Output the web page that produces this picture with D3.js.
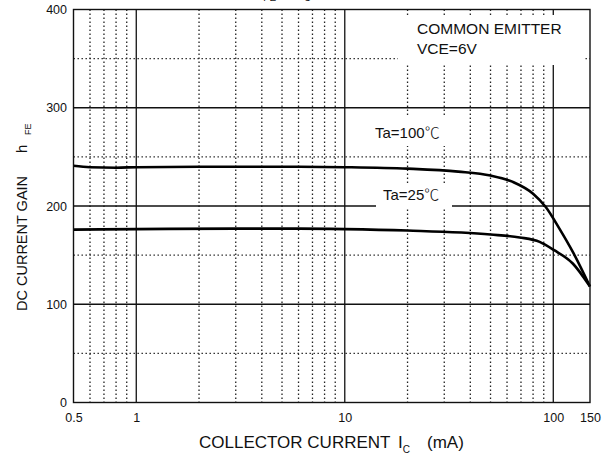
<!DOCTYPE html>
<html>
<head>
<meta charset="utf-8">
<script src="https://cdn.jsdelivr.net/npm/d3@7"></script>
<style>
  html, body { margin: 0; padding: 0; background: #fff; }
  svg { display: block; font-family: "Liberation Sans", Arial, sans-serif; }
  .deg { font-family: "Noto Sans CJK SC", "DejaVu Sans", sans-serif; font-weight: 300; }
</style>
</head>
<body>
<svg width="612" height="459"></svg>
<script>
// values
var ic100 = [0.5, 0.6, 0.8, 1, 2, 5, 10, 20, 35, 50, 64, 80, 92, 107, 125, 150];
var hfe100 = [241, 239.5, 239, 239.5, 240, 240, 239.5, 238, 235, 231, 224.5, 212.5, 199, 177, 152, 118];
var ic25 = [0.5, 1, 3, 6, 10, 20, 50, 69, 86, 101, 124, 150];
var hfe25 = [176, 176.5, 177, 177, 176.5, 175, 171, 168, 163.5, 155, 141.5, 118];
var xTicks = [0.5, 1, 10, 100, 150];
var xMajor = [1, 10, 100];
var xMinor = [0.6, 0.7, 0.8, 0.9, 2, 3, 4, 5, 6, 7, 8, 9, 20, 30, 40, 50, 60, 70, 80, 90];
var yTicks = [0, 100, 200, 300, 400];
var yMajor = [100, 200, 300];
var yMinor = [50, 150, 250, 350];

var svg = d3.select("svg");
var x = d3.scaleLog().domain([0.5, 150]).range([73.5, 590]);
var y = d3.scaleLinear().domain([0, 400]).range([402.5, 9.5]);

var grid = svg.append("g");
grid.selectAll(".vmin").data(xMinor).join("line")
    .attr("x1", function (d) { return x(d); }).attr("x2", function (d) { return x(d); })
    .attr("y1", y(400)).attr("y2", y(0))
    .attr("stroke", "#222").attr("stroke-width", 1.3).attr("stroke-dasharray", "1.4,2.6");
grid.selectAll(".hmin").data(yMinor).join("line")
    .attr("x1", x(0.5)).attr("x2", x(150))
    .attr("y1", function (d) { return y(d); }).attr("y2", function (d) { return y(d); })
    .attr("stroke", "#222").attr("stroke-width", 1.3).attr("stroke-dasharray", "1.4,2.6");
grid.selectAll(".vmaj").data(xMajor).join("line")
    .attr("x1", function (d) { return x(d); }).attr("x2", function (d) { return x(d); })
    .attr("y1", y(400)).attr("y2", y(0))
    .attr("stroke", "#111").attr("stroke-width", 1.3);
grid.selectAll(".hmaj").data(yMajor).join("line")
    .attr("x1", x(0.5)).attr("x2", x(150))
    .attr("y1", function (d) { return y(d); }).attr("y2", function (d) { return y(d); })
    .attr("stroke", "#111").attr("stroke-width", 1.3);

// white boxes under the notes
svg.append("rect").attr("x", 398).attr("y", 15).attr("width", 186).attr("height", 50).attr("fill", "#fff");
svg.append("rect").attr("x", 366).attr("y", 117).attr("width", 86).attr("height", 29).attr("fill", "#fff");
svg.append("rect").attr("x", 376).attr("y", 183).attr("width", 76).attr("height", 26).attr("fill", "#fff");

var note = svg.append("g").attr("font-size", "15.5px").attr("fill", "#111");
note.append("text").attr("x", 417).attr("y", 34).text("COMMON EMITTER");
note.append("text").attr("x", 417).attr("y", 54).text("VCE=6V");
var t100 = note.append("text").attr("x", 375).attr("y", 138).attr("font-size", "15px");
t100.append("tspan").text("Ta=100");
t100.append("tspan").attr("class", "deg").text("℃");
var t25 = note.append("text").attr("x", 383).attr("y", 200).attr("font-size", "15px");
t25.append("tspan").text("Ta=25");
t25.append("tspan").attr("class", "deg").text("℃");

// curves
var line = d3.line()
    .x(function (d) { return x(d[0]); })
    .y(function (d) { return y(d[1]); })
    .curve(d3.curveMonotoneX);
svg.append("path").datum(d3.zip(ic100, hfe100)).attr("d", line)
    .attr("fill", "none").attr("stroke", "#000").attr("stroke-width", 2.6);
svg.append("path").datum(d3.zip(ic25, hfe25)).attr("d", line)
    .attr("fill", "none").attr("stroke", "#000").attr("stroke-width", 2.6);

// frame
svg.append("rect").attr("x", x(0.5)).attr("y", y(400))
    .attr("width", x(150) - x(0.5)).attr("height", y(0) - y(400))
    .attr("fill", "none").attr("stroke", "#111").attr("stroke-width", 1.4);

// tick labels
svg.append("g").attr("transform", "translate(0,419)")
    .call(d3.axisBottom(x).tickValues(xTicks).tickSize(0).tickFormat(function (d) { return String(d); }))
    .call(function (g) {
        g.select(".domain").remove();
        g.selectAll("text").attr("font-size", "12.5px").attr("fill", "#111")
            .attr("font-family", "Liberation Sans, Arial, sans-serif").attr("dy", 0);
    });
svg.append("g").attr("transform", "translate(67,0)")
    .call(d3.axisLeft(y).tickValues(yTicks).tickSize(0).tickPadding(0))
    .call(function (g) {
        g.select(".domain").remove();
        g.selectAll("text").attr("font-size", "12.5px").attr("fill", "#111")
            .attr("font-family", "Liberation Sans, Arial, sans-serif");
    });

// axis titles
var xl = svg.append("text").attr("x", 199).attr("y", 448).attr("font-size", "17px").attr("fill", "#111");
xl.append("tspan").text("COLLECTOR CURRENT");
xl.append("tspan").attr("x", 398).text("I");
xl.append("tspan").attr("dy", 5).attr("font-size", "10px").text("C");
xl.append("tspan").attr("x", 427).attr("dy", -5).text("(mA)");

var yl = svg.append("text").attr("transform", "translate(27,311) rotate(-90)")
    .attr("font-size", "14.5px").attr("fill", "#111");
yl.append("tspan").attr("x", 0).text("DC CURRENT GAIN");
yl.append("tspan").attr("x", 158).attr("font-size", "15px").text("h");
yl.append("tspan").attr("x", 176).attr("dy", 4).attr("font-size", "9px").text("FE");

// top title, cut off by the page edge
var tt = svg.append("text").attr("x", 255).attr("y", -4).attr("font-size", "15px").attr("fill", "#111");
tt.append("tspan").text("h");
tt.append("tspan").attr("dy", 5).attr("font-size", "10px").text("FE");
tt.append("tspan").attr("dy", -5).text(" \u2014 I");
tt.append("tspan").attr("dy", 5).attr("font-size", "10px").text("C");
tt.append("tspan").attr("dy", -5).text("  Rating");
</script>
</body>
</html>
